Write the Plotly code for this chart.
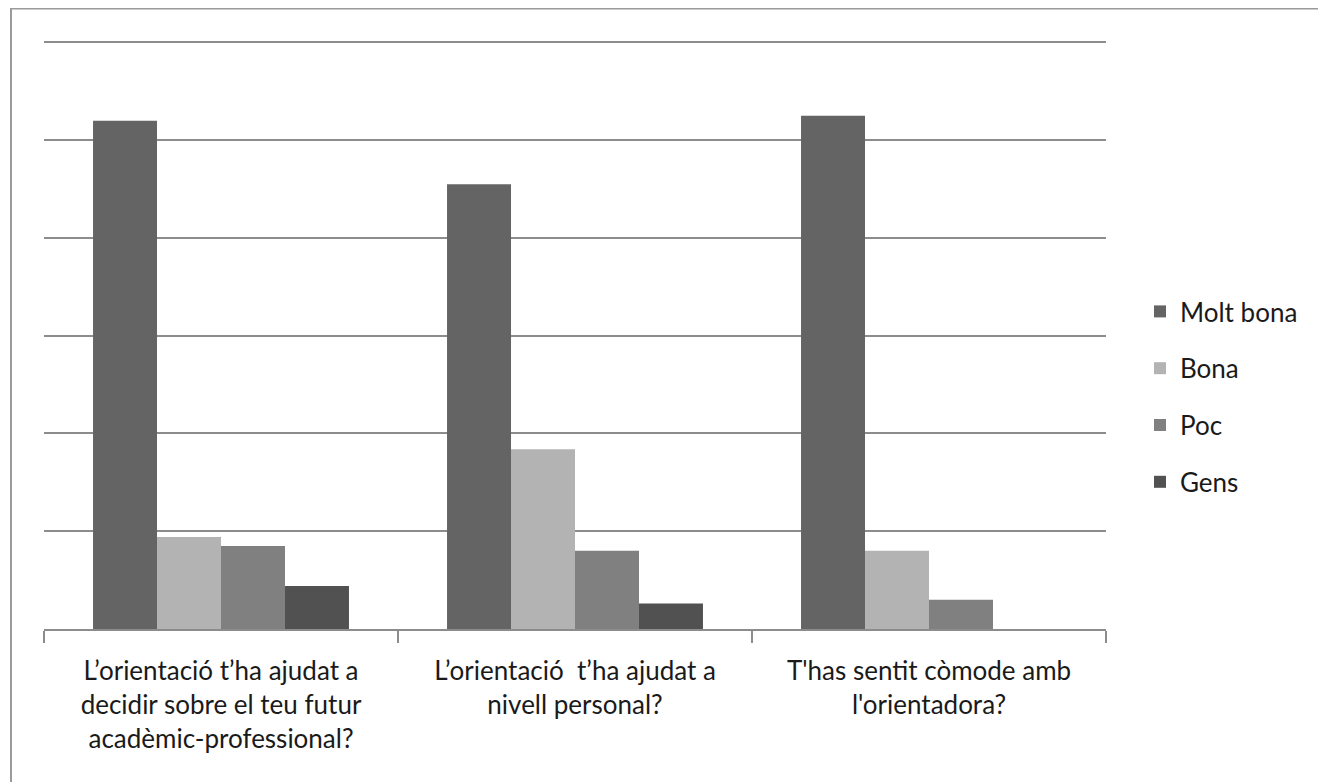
import plotly.graph_objects as go

categories = [
    "L’orientació t’ha ajudat a<br>decidir sobre el teu futur<br>acadèmic-professional?",
    "L’orientació  t’ha ajudat a<br>nivell personal?",
    "T'has sentit còmode amb<br>l'orientadora?",
]
series_names = ["Molt bona", "Bona", "Poc", "Gens"]
molt_bona = [52.0, 45.5, 52.5]
bona = [9.4, 18.4, 8.0]
poc = [8.5, 8.0, 3.0]
gens = [4.4, 2.6, 0.0]
values = [molt_bona, bona, poc, gens]
colors = ["#646464", "#b3b3b3", "#808080", "#515151"]

# page has an 8px body margin
W, H = 1318, 774
L, T = 36, 33
pw, ph = 1062, 588
R = W - L - pw
B = H - T - ph

fig = go.Figure()
for name, vals, col in zip(series_names, values, colors):
    fig.add_trace(go.Bar(
        x=categories, y=vals, name=name, legendgroup=name,
        marker=dict(color=col, line=dict(width=0)),
    ))

fig.update_layout(
    width=W, height=H,
    margin=dict(l=L, r=R, t=T, b=B),
    paper_bgcolor="white", plot_bgcolor="white",
    barmode="group", bargap=0.277, bargroupgap=0,
    font=dict(family="Lato, Noto Sans, sans-serif", size=26, color="#1a1a1a"),
    showlegend=True,
    legend=dict(
        x=(1132 - L) / pw, xanchor="left",
        y=(H - B - 389) / ph, yanchor="middle",
        font=dict(size=26, color="#1a1a1a"),
        tracegroupgap=20, traceorder="grouped",
        bgcolor="rgba(0,0,0,0)",
    ),
    xaxis=dict(
        showline=True, linecolor="#8c8c8c", linewidth=2,
        ticks="outside", tickson="boundaries", ticklen=12,
        tickcolor="#8c8c8c", tickwidth=2,
        showgrid=False, ticklabelstandoff=18,
        tickfont=dict(size=26, color="#1a1a1a"),
    ),
    yaxis=dict(
        range=[0, 60.15], tick0=0, dtick=10, showticklabels=False,
        showgrid=True, gridcolor="#8c8c8c", gridwidth=2,
        zeroline=False, showline=False, ticks="",
    ),
    shapes=[dict(
        type="rect", xref="paper", yref="paper",
        x0=(3 - L) / pw, x1=(W + 20 - L) / pw,
        y0=-(B + 30) / ph, y1=(T - 0.5) / ph + 1,
        line=dict(color="#9a9a9a", width=2), fillcolor="rgba(0,0,0,0)",
        layer="below",
    )],
)

fig.write_html("out.html")
